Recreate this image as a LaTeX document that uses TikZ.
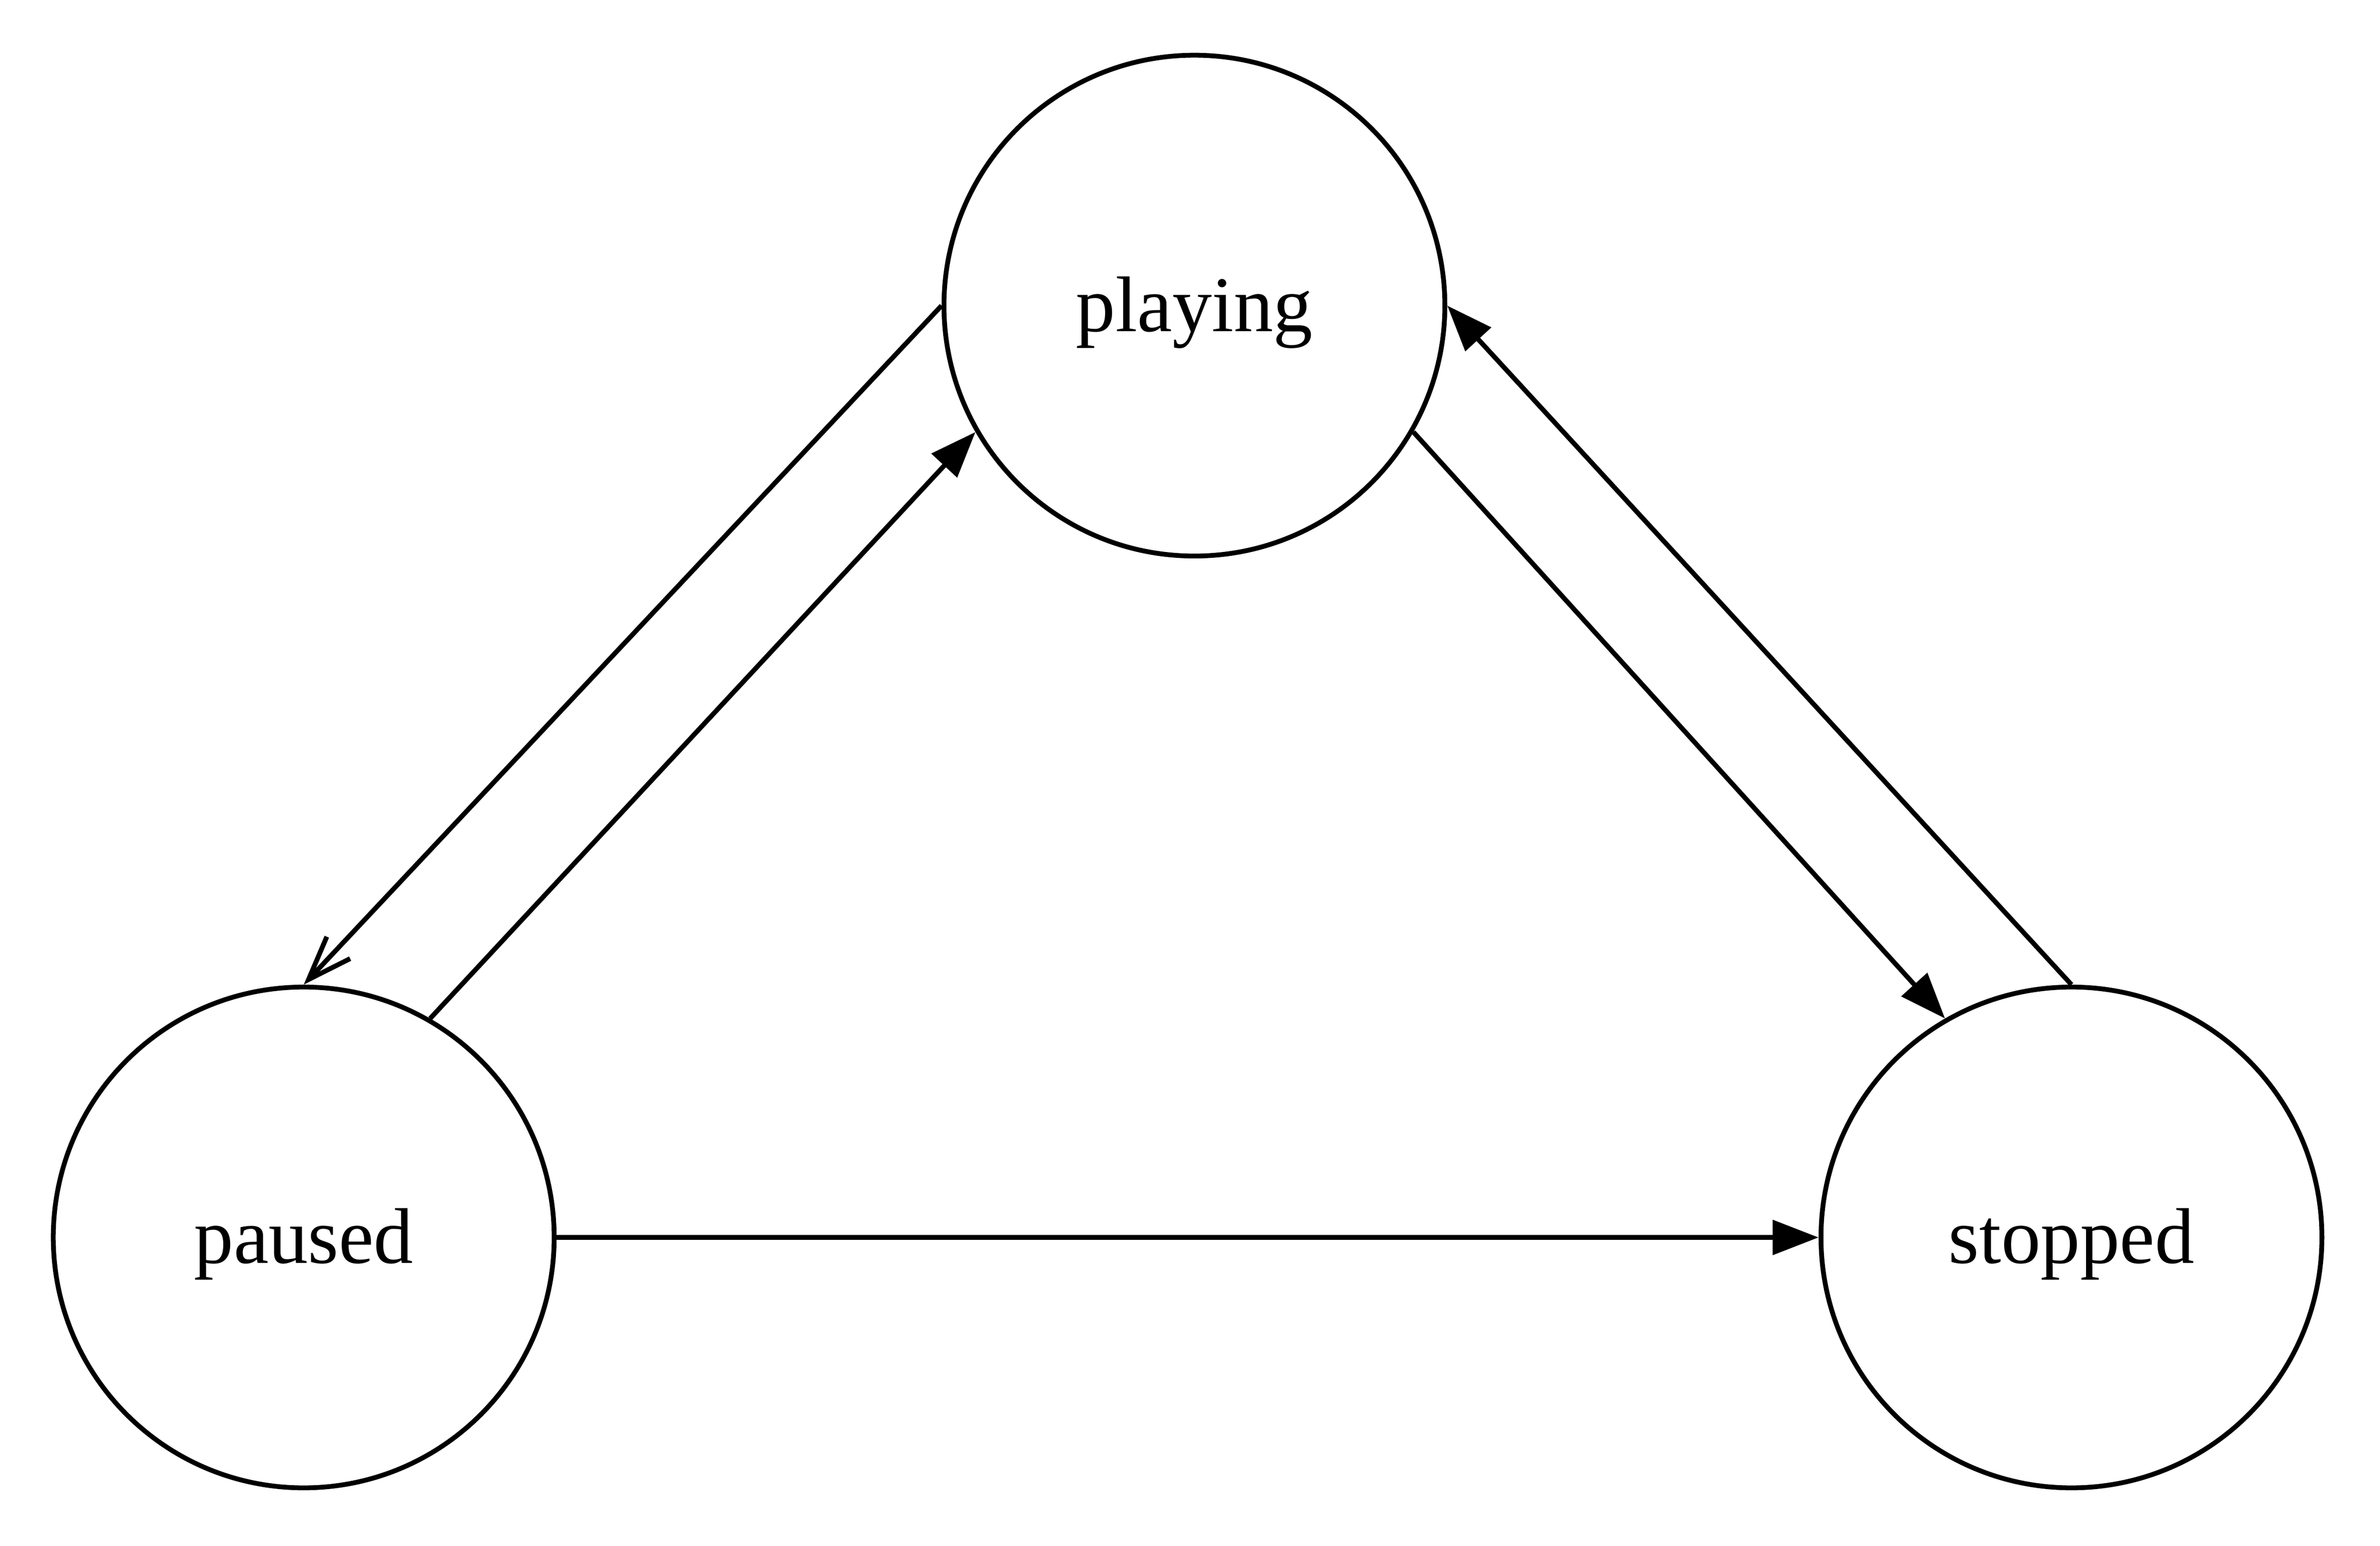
\documentclass[tikz,border=0pt]{standalone}
\usepackage{fontspec}
\setmainfont{Liberation Serif}
\usetikzlibrary{arrows.meta}

\begin{document}
\begin{tikzpicture}[line width=0.9pt,
    state/.style={circle, draw, inner sep=0pt, minimum size=3.3cm, font=\fontsize{14.8}{18}\selectfont, text height=12pt, text depth=2.4pt},
    arrowfilled/.style={-{Triangle[length=8.6pt, width=6.4pt]}},
    arrowopen/.style={-{Straight Barb[length=8.2pt, width=6pt]}}]
      \useasboundingbox (0,0) rectangle (15.68,10.184);

      \node[state] (playing) at (7.869, 8.170) {playing};
      \node[state] (paused) at (2.001, 2.030) {paused};
      \node[state] (stopped) at (13.647, 2.030) {stopped};

      \draw[arrowopen] (playing.west) -- (paused.north);
      \draw[arrowfilled] (paused.60) -- (playing.210);
      \draw[arrowfilled] (playing.-30) -- (stopped.120);
      \draw[arrowfilled] (stopped.north) -- (playing.east);
      \draw[arrowfilled] (paused.east) -- (stopped.west);
    \end{tikzpicture}
\end{document}
